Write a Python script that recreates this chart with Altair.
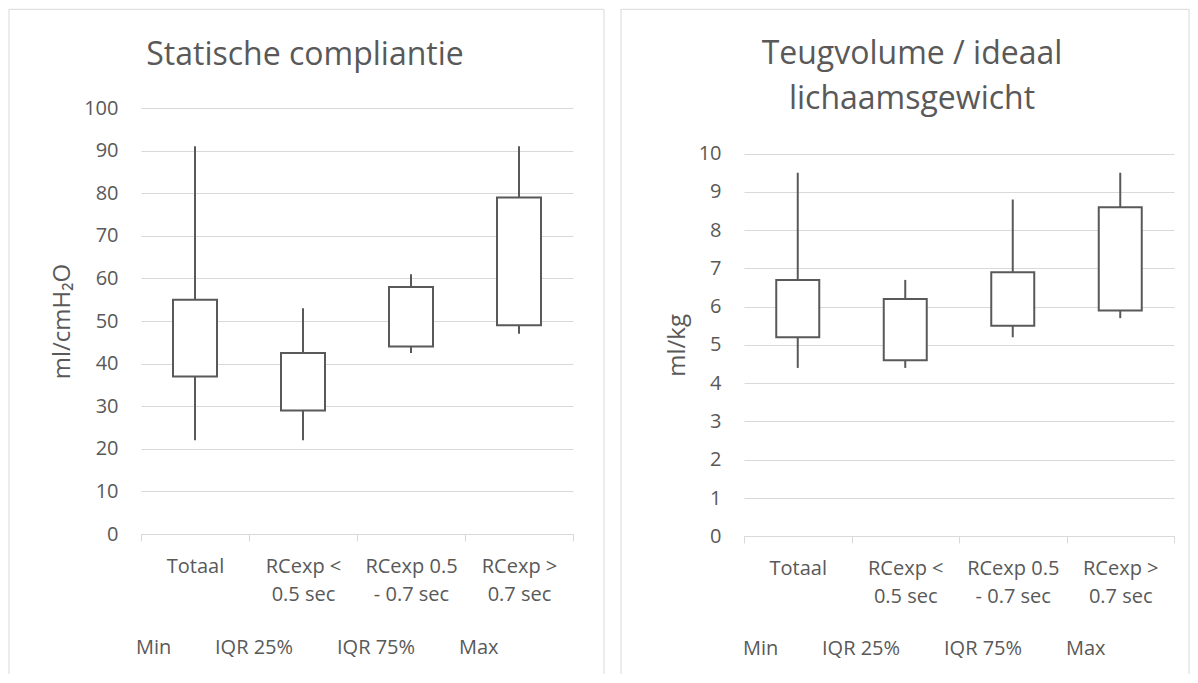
import json
import altair as alt
import pandas as pd

# ---------------- data ----------------
category_lines = [["Totaal"], ["RCexp <", "0.5 sec"], ["RCexp 0.5", "- 0.7 sec"], ["RCexp >", "0.7 sec"]]
categories = [" ".join(l) for l in category_lines]
series_names = ["Min", "IQR 25%", "IQR 75%", "Max"]

# Statische compliantie (ml/cmH2O)
sc_min = [22, 22, 42.5, 47]
sc_q1 = [37, 29, 44, 49]
sc_q3 = [55, 42.5, 58, 79]
sc_max = [91, 53, 61, 91]
sc_ticks = list(range(0, 101, 10))

# Teugvolume / ideaal lichaamsgewicht (ml/kg)
tv_min = [4.4, 4.4, 5.2, 5.7]
tv_q1 = [5.2, 4.6, 5.5, 5.9]
tv_q3 = [6.7, 6.2, 6.9, 8.6]
tv_max = [9.5, 6.7, 8.8, 9.5]
tv_ticks = list(range(0, 11))

# ---------------- style ----------------
FONT = "Open Sans"
TEXT = "#595959"
GRID = "#d9d9d9"
LINE = "#595959"

label_expr = ""
for name, lines in zip(categories, category_lines):
    label_expr += f"datum.label == {json.dumps(name)} ? {json.dumps(lines)} : "
label_expr += "datum.label"


def panel(title_lines, title_offset, ytitle, mins, q1s, q3s, maxs, ticks, width, height,
          y_range, title_dx, border, legend_xy, box_size):
    wide = pd.DataFrame({"cat": categories, "lo": mins, "q1": q1s, "q3": q3s, "hi": maxs})
    long = pd.DataFrame([
        {"cat": c, "series": s, "value": v}
        for s, vals in zip(series_names, [mins, q1s, q3s, maxs])
        for c, v in zip(categories, vals)
    ])
    one = pd.DataFrame({"k": [0]})

    x = alt.X(
        "cat:N", sort=categories, title=None,
        scale=alt.Scale(paddingInner=0, paddingOuter=0),
        axis=alt.Axis(
            labelAngle=0, labelExpr=label_expr, labelFont=FONT, labelFontSize=20,
            labelColor=TEXT, labelLineHeight=28, labelPadding=15, labelBaseline="top",
            domainColor=GRID, domainWidth=1, tickColor=GRID, tickSize=7, tickWidth=1,
            tickBand="extent", grid=False, labelOverlap=False,
        ),
    )
    y_scale = alt.Scale(domain=[ticks[0], ticks[-1]], nice=False, zero=True, range=y_range)
    y_axis = alt.Axis(
        values=ticks, domain=False, ticks=False, grid=True, gridColor=GRID, gridWidth=1,
        labelFont=FONT, labelFontSize=20, labelColor=TEXT, labelPadding=23,
        titleFont=FONT, titleFontSize=24, titleFontWeight="normal", titleColor=TEXT,
        titlePadding=9,
    )

    whisk = alt.Chart(wide).mark_rule(color=LINE, strokeWidth=2).encode(
        x=x, y=alt.Y("lo:Q", scale=y_scale, axis=y_axis, title=ytitle), y2="hi:Q"
    )
    box = alt.Chart(wide).mark_bar(size=box_size, fill="white", stroke=LINE, strokeWidth=2).encode(
        x=x, y=alt.Y("q1:Q", scale=y_scale, axis=y_axis, title=ytitle), y2="q3:Q"
    )
    leg = alt.Chart(long).mark_point(opacity=0).encode(
        x=x,
        y=alt.Y("value:Q", scale=y_scale, axis=y_axis, title=ytitle),
        color=alt.Color(
            "series:N",
            scale=alt.Scale(domain=series_names, range=[TEXT] * 4),
            legend=alt.Legend(
                title=None, orient="none", legendX=legend_xy[0], legendY=legend_xy[1],
                direction="horizontal", columns=4, symbolOpacity=0, symbolStrokeWidth=0,
                symbolSize=16, labelOffset=4, columnPadding=19, padding=0,
                labelFont=FONT, labelFontSize=20, labelColor=TEXT, labelLimit=300,
            ),
        ),
    )

    bx1, by1, bx2, by2 = border
    frame_left = alt.Chart(one).mark_rule(color=GRID, strokeWidth=1).encode(
        x=alt.value(bx1), y=alt.value(by1), y2=alt.value(by2))
    frame_right = alt.Chart(one).mark_rule(color=GRID, strokeWidth=1).encode(
        x=alt.value(bx2), y=alt.value(by1), y2=alt.value(by2))
    frame_top = alt.Chart(one).mark_rule(color=GRID, strokeWidth=1).encode(
        x=alt.value(bx1), x2=alt.value(bx2), y=alt.value(by1))

    return alt.layer(frame_left, frame_right, frame_top, whisk, box, leg).properties(
        width=width, height=height,
        title=alt.TitleParams(
            text=title_lines, dx=title_dx, offset=title_offset, anchor="middle", frame="group",
            font=FONT, fontSize=32, fontWeight="normal", color=TEXT,
            baseline="alphabetic", lineHeight=45,
        ),
    )


left = panel(["Statische compliantie"], -88, "ml/cmH₂O", sc_min, sc_q1, sc_q3, sc_max, sc_ticks,
             432, 426, [426, 0], -52, (-132, -98.7, 463, 566), (-29, 530), 44)
right = panel(["Teugvolume / ideaal", "lichaamsgewicht"], -132, "ml/kg", tv_min, tv_q1, tv_q3, tv_max,
              tv_ticks, 430, 428, [428.3, 45.6], -47, (-123, -98.7, 445, 566), (-25, 531), 43)

chart = (
    alt.hconcat(left, right, spacing=15)
    .resolve_scale(color="independent")
    .properties(padding=0)
    .configure_view(stroke=None)
)

chart.save("out.html", embed_options={"renderer": "svg", "actions": False})
